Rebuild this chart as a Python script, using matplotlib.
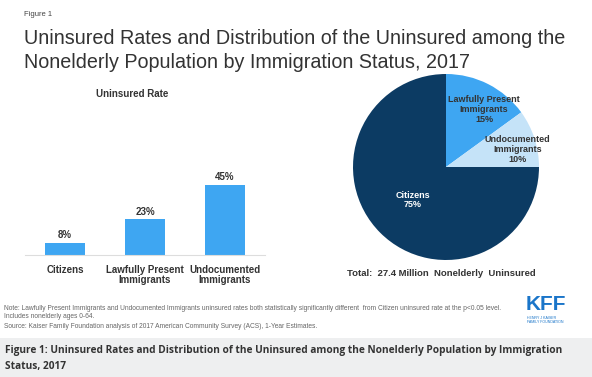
import matplotlib.pyplot as plt
from matplotlib.patches import Rectangle

# data
bar_cats = ['Citizens', 'Lawfully Present\nImmigrants', 'Undocumented\nImmigrants']
bar_vals = [8, 23, 45]

pie_labels = ['Lawfully Present\nImmigrants', 'Undocumented\nImmigrants', 'Citizens']
pie_vals = [15, 10, 75]

W, H = 592, 377
plt.rcParams['font.family'] = ['Liberation Sans', 'DejaVu Sans']

fig = plt.figure(figsize=(W / 100, H / 100), dpi=100)
fig.patch.set_facecolor('white')


def box(x0, y0, x1, y1):
    # pixel box (top-left origin) -> figure fraction
    return [x0 / W, 1 - y1 / H, (x1 - x0) / W, (y1 - y0) / H]


def txt(x, y, s, **kw):
    fig.text(x / W, 1 - y / H, s, **kw)


txt(24, 15, 'Figure 1', fontsize=5.5, color='#444444', va='center')
txt(24, 38, 'Uninsured Rates and Distribution of the Uninsured among the',
    fontsize=14.2, color='#333333', va='center')
txt(24, 63, 'Nonelderly Population by Immigration Status, 2017',
    fontsize=14.2, color='#333333', va='center')

txt(132, 94, 'Uninsured Rate', fontsize=7, fontweight='bold', color='#333333',
    va='center', ha='center')

# bar chart
ax = fig.add_axes(box(25, 177, 265, 255))
x = range(len(bar_vals))
ax.bar(x, bar_vals, width=0.49, color='#3ea6f2')
for xi, v in zip(x, bar_vals):
    ax.text(xi, v + 1.6, f'{v}%', ha='center', va='bottom', fontsize=7,
            fontweight='bold', color='#333333')
ax.set_xlim(-0.5, 2.5)
ax.set_ylim(0, 50)
ax.set_yticks([])
ax.set_xticks(list(x))
ax.set_xticklabels(bar_cats, fontsize=7, fontweight='bold', color='#333333',
                   linespacing=1.05)
ax.tick_params(axis='x', length=0, pad=7)
for s in ['top', 'right', 'left']:
    ax.spines[s].set_visible(False)
ax.spines['bottom'].set_color('#dddddd')
ax.spines['bottom'].set_linewidth(0.8)
ax.patch.set_alpha(0)

# pie chart
pax = fig.add_axes(box(353, 74, 539, 260))
pax.pie(pie_vals, startangle=90, counterclock=False,
        colors=['#3ea6f2', '#c5e3f8', '#0c3b63'], radius=1.0)
pax.set_xlim(-1, 1)
pax.set_ylim(-1, 1)
pax.set_aspect('equal')
pax.text(0.41, 0.62, pie_labels[0] + '\n15%', ha='center', va='center',
         fontsize=6.5, fontweight='bold', color='#333333', linespacing=1.1)
pax.text(0.77, 0.19, pie_labels[1] + '\n10%', ha='center', va='center',
         fontsize=6.5, fontweight='bold', color='#333333', linespacing=1.1)
pax.text(-0.355, -0.355, pie_labels[2] + '\n75%', ha='center', va='center',
         fontsize=6.5, fontweight='bold', color='white', linespacing=1.1)

txt(347, 273, 'Total:  27.4 Million  Nonelderly  Uninsured', fontsize=6.8,
    fontweight='bold', color='#333333', va='center')

# notes
txt(4, 308, 'Note: Lawfully Present Immigrants and Undocumented Immigrants uninsured rates both '
    'statistically significantly different  from Citizen uninsured rate at the p<0.05 level.',
    fontsize=4.8, color='#666666', va='center')
txt(4, 317, 'Includes nonelderly ages 0-64.', fontsize=4.8, color='#666666', va='center')
txt(4, 327, 'Source: Kaiser Family Foundation analysis of 2017 American Community Survey (ACS), '
    '1-Year Estimates.', fontsize=4.8, color='#666666', va='center')

# logo
txt(526, 305, 'KFF', fontsize=15, fontweight='bold', color='#1a75c9', va='center',
    ha='left')
txt(527, 320, 'HENRY J KAISER\nFAMILY FOUNDATION', fontsize=2.6, color='#1a75c9',
    va='center', linespacing=1.0)

# caption band
fig.patches.append(Rectangle((0, 0), 1, 39 / H, transform=fig.transFigure,
                             facecolor='#eeeff0', edgecolor='none', zorder=0))
txt(5, 351, 'Figure 1: Uninsured Rates and Distribution of the Uninsured among the '
    'Nonelderly Population by Immigration', fontsize=7.3, fontweight='bold',
    color='#333333', va='center', family=['Open Sans', 'DejaVu Sans'])
txt(5, 367, 'Status, 2017', fontsize=7.3, fontweight='bold',
    color='#333333', va='center', family=['Open Sans', 'DejaVu Sans'])

fig.savefig('out.png', dpi=100)
